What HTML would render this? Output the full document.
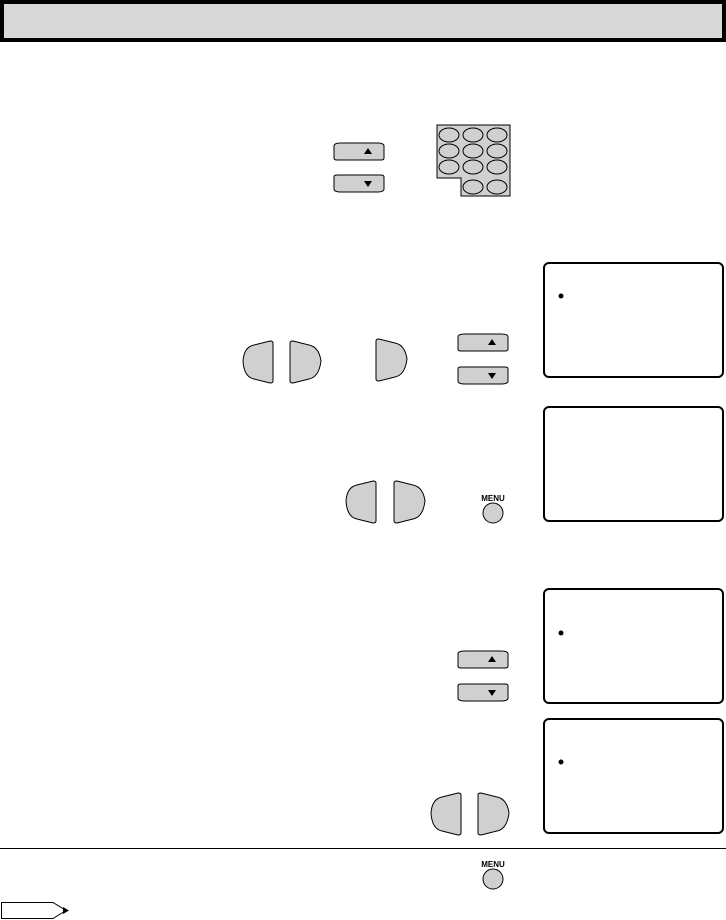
<!DOCTYPE html>
<html><head><style>body{margin:0;background:#fff}svg{display:block}</style></head><body>
<svg width="726" height="920" xmlns="http://www.w3.org/2000/svg">
<defs>
<g id="up"><path d="M1,3 Q1,0 8,0 L44,0 Q51,0 51,3 L51,15 Q51,17 48,17 L4,17 Q1,17 1,15 Z" fill="#d0d0d0" stroke="#000" stroke-width="1"/><path d="M31,11 L35,5 L39,11 Z" fill="#000"/></g>
<g id="dn"><path d="M1,2 Q1,0 4,0 L48,0 Q51,0 51,2 L51,14 Q51,17 44,17 L8,17 Q1,17 1,14 Z" fill="#d0d0d0" stroke="#000" stroke-width="1"/><path d="M31,6 L35,12 L39,6 Z" fill="#000"/></g>
<g id="lf"><path d="M31,2 Q31,0 28,0 L12,4 Q2,6 1,20 Q2,36 12,38 L28,42 Q31,42 31,40 Z" fill="#d0d0d0" stroke="#000"/></g>
<g id="rt"><path d="M1,2 Q1,0 4,0 L20,4 Q30,6 32,20 Q30,36 20,38 L4,42 Q1,42 1,40 Z" fill="#d0d0d0" stroke="#000"/></g>
<g id="menu"><text x="0" y="0" font-family="Liberation Sans, sans-serif" font-size="8" font-weight="bold" text-anchor="middle">MENU</text><circle cx="0" cy="12" r="10" fill="#d0d0d0" stroke="#000"/></g>
</defs>
<rect x="0" y="0" width="726" height="42" fill="#000"/>
<rect x="4" y="4" width="718" height="34" fill="#d8d8d8"/>

<use href="#up" x="333" y="143"/><use href="#dn" x="333" y="175"/>
<path d="M437,125 L510,125 L510,196 L461,196 L461,178 L437,178 Z" fill="#d0d0d0" stroke="#000"/>
<g fill="none" stroke="#000">
<ellipse cx="449" cy="135" rx="10" ry="7"/><ellipse cx="473" cy="135" rx="10" ry="7"/><ellipse cx="497" cy="135" rx="10" ry="7"/>
<ellipse cx="449" cy="151" rx="10" ry="7"/><ellipse cx="473" cy="151" rx="10" ry="7"/><ellipse cx="497" cy="151" rx="10" ry="7"/>
<ellipse cx="449" cy="167" rx="10" ry="7"/><ellipse cx="473" cy="167" rx="10" ry="7"/><ellipse cx="497" cy="167" rx="10" ry="7"/>
<ellipse cx="473" cy="187" rx="10" ry="7"/><ellipse cx="497" cy="187" rx="10" ry="7"/>
</g>

<use href="#lf" x="242" y="341"/><use href="#rt" x="289" y="341"/>
<use href="#rt" x="375" y="339"/>
<use href="#up" x="457" y="334"/><use href="#dn" x="457" y="367"/>

<use href="#lf" x="345" y="481"/><use href="#rt" x="393" y="481"/>
<use href="#menu" x="493" y="501"/>

<use href="#up" x="457" y="651"/><use href="#dn" x="457" y="684"/>
<use href="#lf" x="430" y="793"/><use href="#rt" x="477" y="793"/>

<g fill="#fff" stroke="#000" stroke-width="2">
<rect x="544" y="263" width="179" height="114" rx="5"/>
<rect x="544" y="407" width="179" height="114" rx="5"/>
<rect x="544" y="589" width="179" height="114" rx="5"/>
<rect x="544" y="719" width="179" height="114" rx="5"/>
</g>
<circle cx="561" cy="296" r="2.5" fill="#000"/>
<circle cx="561" cy="633" r="2.5" fill="#000"/>
<circle cx="561" cy="762" r="2.5" fill="#000"/>

<line x1="0" y1="848.5" x2="726" y2="848.5" stroke="#000"/>
<use href="#menu" x="493" y="867"/>
<path d="M1.5,902.5 L53,902.5 L66,910.5 L53,918.5 L1.5,918.5 Z" fill="#fff" stroke="#000"/>
<path d="M63,907 L69,910.5 L63,914 Z" fill="#000"/>
</svg>
</body></html>
